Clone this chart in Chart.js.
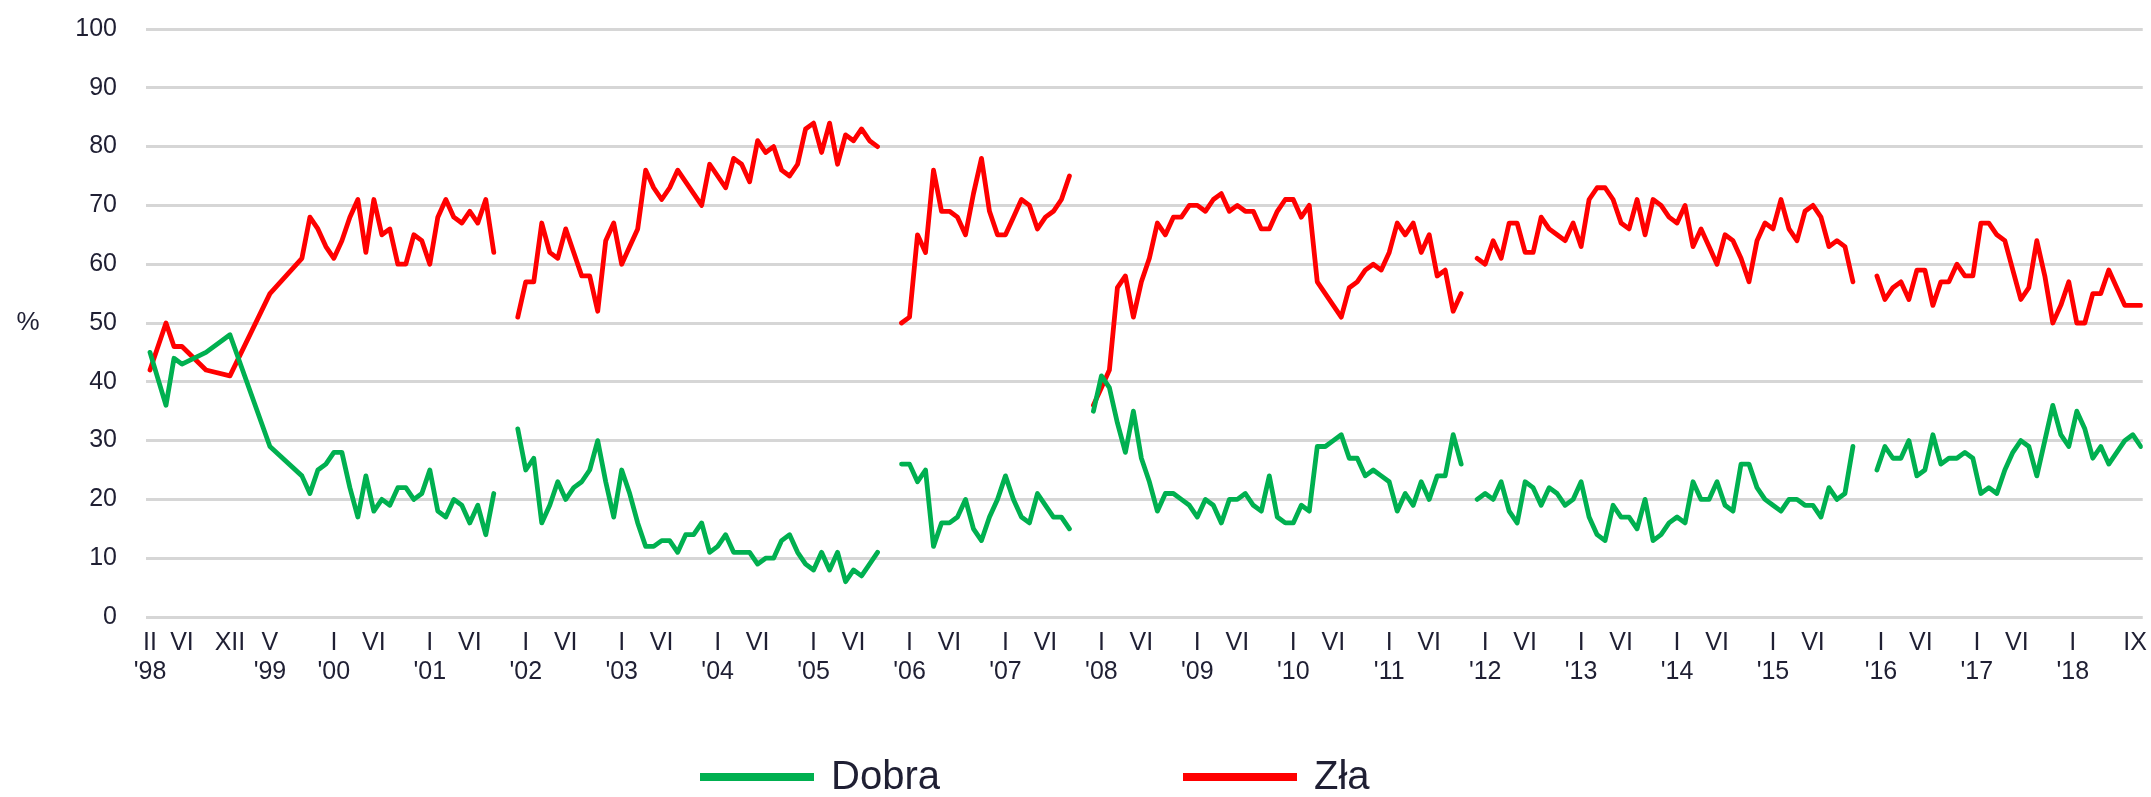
<!DOCTYPE html>
<html>
<head>
<meta charset="utf-8">
<script src="https://cdn.jsdelivr.net/npm/chart.js@4.4.1/dist/chart.umd.min.js"></script>
<style>
    html, body { margin: 0; padding: 0; background: #fff; }
    #wrap { width: 2151px; height: 797px; }
</style>
</head>
<body>
<div id="wrap"><canvas id="chart"></canvas></div>
<script>
    // ==================== DATA ====================
    // x axis counts month slots from II 1998 (slot 0); surveys were irregular until autumn 1999
    const earlySlots = [0, 2, 3, 4, 7, 10, 15];
    // monthly runs after that, the line breaks between runs
    const runs = [[19, 43], [46, 91], [94, 115], [118, 164], [166, 213], [216, 249]];

    const dobra = [
        45, 36, 44, 43, 45, 48, 29,
        24, 21, 25, 26, 28, 28, 22, 17, 24, 18, 20, 19, 22, 22, 20, 21, 25, 18, 17, 20, 19, 16, 19, 14, 21,
        32, 25, 27, 16, 19, 23, 20, 22, 23, 25, 30, 23, 17, 25, 21, 16, 12, 12, 13, 13, 11, 14, 14, 16, 11, 12, 14,
        11, 11, 11, 9, 10, 10, 13, 14, 11, 9, 8, 11, 8, 11, 6, 8, 7, 9, 11,
        26, 26, 23, 25, 12, 16, 16, 17, 20, 15, 13, 17, 20, 24, 20, 17, 16, 21, 19, 17, 17, 15,
        35, 41, 39, 33, 28, 35, 27, 23, 18, 21, 21, 20, 19, 17, 20, 19, 16, 20, 20, 21, 19, 18, 24, 17, 16, 16,
        19, 18, 29, 29, 30, 31, 27, 27, 24, 25, 24, 23, 18, 21, 19, 23, 20, 24, 24, 31, 26,
        20, 21, 20, 23, 18, 16, 23, 22, 19, 22, 21, 19, 20, 23, 17, 14, 13, 19, 17, 17, 15, 20, 13, 14, 16, 17, 16,
        23, 20, 20, 23, 19, 18, 26, 26, 22, 20, 19, 18, 20, 20, 19, 19, 17, 22, 20, 21, 29,
        25, 29, 27, 27, 30, 24, 25, 31, 26, 27, 27, 28, 27, 21, 22, 21, 25, 28, 30, 29, 24, 30, 36, 31, 29, 35, 32,
        27, 29, 26, 28, 30, 31, 29
    ];

    const zla = [
        42, 50, 46, 46, 42, 41, 55,
        61, 68, 66, 63, 61, 64, 68, 71, 62, 71, 65, 66, 60, 60, 65, 64, 60, 68, 71, 68, 67, 69, 67, 71, 62,
        51, 57, 57, 67, 62, 61, 66, 62, 58, 58, 52, 64, 67, 60, 63, 66, 76, 73, 71, 73, 76, 74, 72, 70, 77, 75, 73,
        78, 77, 74, 81, 79, 80, 76, 75, 77, 83, 84, 79, 84, 77, 82, 81, 83, 81, 80,
        50, 51, 65, 62, 76, 69, 69, 68, 65, 72, 78, 69, 65, 65, 68, 71, 70, 66, 68, 69, 71, 75,
        36, 39, 42, 56, 58, 51, 57, 61, 67, 65, 68, 68, 70, 70, 69, 71, 72, 69, 70, 69, 69, 66, 66, 69, 71, 71,
        68, 70, 57, 55, 53, 51, 56, 57, 59, 60, 59, 62, 67, 65, 67, 62, 65, 58, 59, 52, 55,
        61, 60, 64, 61, 67, 67, 62, 62, 68, 66, 65, 64, 67, 63, 71, 73, 73, 71, 67, 66, 71, 65, 71, 70, 68, 67, 70,
        63, 66, 63, 60, 65, 64, 61, 57, 64, 67, 66, 71, 66, 64, 69, 70, 68, 63, 64, 63, 57,
        58, 54, 56, 57, 54, 59, 59, 53, 57, 57, 60, 58, 58, 67, 67, 65, 64, 59, 54, 56, 64, 58, 50, 53, 57, 50, 50,
        55, 55, 59, 56, 53, 53, 53
    ];

    // axis labels: slot, month (roman), year
    const tickSlots = [0, 4, 10, 15, 23, 28, 35, 40, 47, 52, 59, 64, 71, 76, 83, 88, 95, 100, 107, 112,
        119, 124, 131, 136, 143, 148, 155, 160, 167, 172, 179, 184, 191, 196, 203, 208,
        216.5, 221.5, 228.5, 233.5, 240.5, 248.3];
    const tickMonths = ['II', 'VI', 'XII', 'V', 'I', 'VI', 'I', 'VI', 'I', 'VI', 'I', 'VI', 'I', 'VI', 'I', 'VI',
        'I', 'VI', 'I', 'VI', 'I', 'VI', 'I', 'VI', 'I', 'VI', 'I', 'VI', 'I', 'VI', 'I', 'VI', 'I', 'VI', 'I', 'VI',
        'I', 'VI', 'I', 'VI', 'I', 'IX'];
    const tickYears = ["'98", '', '', "'99", "'00", '', "'01", '', "'02", '', "'03", '', "'04", '', "'05", '',
        "'06", '', "'07", '', "'08", '', "'09", '', "'10", '', "'11", '', "'12", '', "'13", '', "'14", '', "'15", '',
        "'16", '', "'17", '', "'18", ''];

    const seriesNames = ['Dobra', 'Zła'];
    const seriesColors = ['#00b050', '#ff0000'];
    const unitLabel = '%';

    // ==================== HELPERS ====================
    const textColor = '#1f1f33';
    const fontFamily = '"Liberation Sans", Arial, sans-serif';

    // slot of every value, and where a new run (line break) starts
    const slots = [...earlySlots];
    const runStarts = [];
    runs.forEach(([from, to], i) => {
        if (i > 0) runStarts.push(slots.length);
        for (let s = from; s <= to; s++) slots.push(s);
    });

    function toPoints(values) {
        const pts = [];
        values.forEach((v, i) => {
            if (runStarts.includes(i)) pts.push({ x: slots[i] - 1, y: null });
            pts.push({ x: slots[i], y: v });
        });
        return pts;
    }

    // "%" beside the y axis and the legend under the chart
    const extras = {
        id: 'extras',
        afterDraw(chart) {
            const ctx = chart.ctx;
            ctx.save();
            ctx.fillStyle = textColor;
            ctx.textBaseline = 'middle';
            ctx.font = '26px ' + fontFamily;
            ctx.textAlign = 'center';
            ctx.fillText(unitLabel, 28, chart.scales.y.getPixelForValue(50));

            const legendX = [700, 1183];
            const legendY = 777;
            ctx.font = '40px ' + fontFamily;
            ctx.textAlign = 'left';
            chart.data.datasets.forEach((ds, i) => {
                ctx.fillStyle = ds.borderColor;
                ctx.fillRect(legendX[i], legendY - 4, 114, 8);
                ctx.fillStyle = textColor;
                ctx.fillText(ds.label, legendX[i] + 131, legendY + 1);
            });
            ctx.restore();
        }
    };

    // ==================== CHART ====================
    new Chart(document.getElementById('chart'), {
        type: 'line',
        data: {
            datasets: [dobra, zla].map((vals, i) => ({
                label: seriesNames[i],
                data: toPoints(vals),
                borderColor: seriesColors[i],
                backgroundColor: seriesColors[i],
                borderWidth: 4.8,
                borderJoinStyle: 'round',
                borderCapStyle: 'round',
                pointRadius: 0,
                tension: 0,
                spanGaps: false
            }))
        },
        options: {
            responsive: true,
            maintainAspectRatio: false,
            animation: false,
            layout: { padding: { top: 29, right: 7, bottom: 0, left: 0 } },
            plugins: {
                legend: { display: false },
                tooltip: { enabled: false }
            },
            scales: {
                x: {
                    type: 'linear',
                    min: -0.5,
                    max: 249.25,
                    grid: { display: false },
                    border: { display: false },
                    afterBuildTicks: (axis) => { axis.ticks = tickSlots.map(v => ({ value: v })); },
                    afterFit: (axis) => { axis.height = 180; },
                    ticks: {
                        autoSkip: false,
                        maxRotation: 0,
                        minRotation: 0,
                        padding: 4,
                        color: textColor,
                        font: { family: fontFamily, size: 25, lineHeight: 1.15 },
                        callback: (v, i) => tickYears[i] ? [tickMonths[i], tickYears[i]] : tickMonths[i]
                    }
                },
                y: {
                    min: 0,
                    max: 100,
                    // the tick length gives the gap between labels and plot, the marks themselves are hidden
                    grid: { color: '#d6d6d6', lineWidth: 3, drawTicks: true, tickLength: 29, tickColor: 'rgba(0,0,0,0)' },
                    border: { display: false },
                    afterFit: (axis) => { axis.width = 146; },
                    ticks: {
                        stepSize: 10,
                        padding: 0,
                        color: textColor,
                        font: { family: fontFamily, size: 25 }
                    }
                }
            }
        },
        plugins: [extras]
    });
</script>
</body>
</html>
